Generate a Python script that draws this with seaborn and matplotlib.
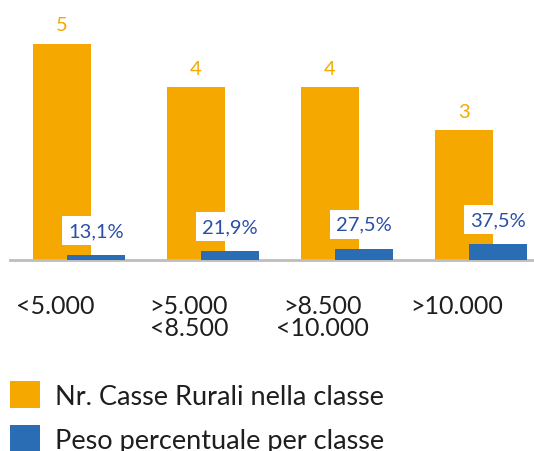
import numpy as np
import matplotlib
matplotlib.use("Agg")
import matplotlib.pyplot as plt
import seaborn as sns

classes = ["<5.000", ">5.000\n<8.500", ">8.500\n<10.000", ">10.000"]
casse_rurali = [5, 4, 4, 3]
peso_percentuale = [13.1, 21.9, 27.5, 37.5]
label_casse = "Nr. Casse Rurali nella classe"
label_peso = "Peso percentuale per classe"

ORANGE = "#F5A800"
BLUE = "#2A6DB5"
BLUE_TEXT = "#2A4FA6"
GREY = "#BDBDBD"
TEXT = "#1E1E1E"

sns.set_theme(style="white")
plt.rcParams['font.family'] = ['Lato', 'DejaVu Sans']

fig = plt.figure(figsize=(5.34, 4.52), dpi=100)
ax = fig.add_axes([10 / 534, 0.4215, 1 - 10 / 534, 0.5373])

idx = np.arange(len(classes))
shift = 0.127
bar_w = 0.433
peso_frac = [p / 100 for p in peso_percentuale]

sns.barplot(x=idx - shift, y=casse_rurali, native_scale=True, width=bar_w,
            color=ORANGE, saturation=1, linewidth=0, ax=ax, label=label_casse, zorder=2)
sns.barplot(x=idx + shift, y=peso_frac, native_scale=True, width=bar_w,
            color=BLUE, saturation=1, linewidth=0, ax=ax, label=label_peso, zorder=3)

# value labels
for i, v in enumerate(casse_rurali):
    ax.annotate(str(v), xy=(i - shift, v), xytext=(0, 13.5), textcoords="offset points",
                ha="center", va="center", fontsize=14.5, color=ORANGE, zorder=5)
for i, p in enumerate(peso_percentuale):
    txt = f"{p:.1f}".replace(".", ",") + "%"
    ax.annotate(txt, xy=(i + shift, p / 100), xytext=(0, 17.5), textcoords="offset points",
                ha="center", va="center", fontsize=14.5, color=BLUE_TEXT, zorder=5,
                bbox=dict(boxstyle="square,pad=0.3", fc="white", ec="none"))

ax.set_xlim(-0.515, 3.395)
ax.set_ylim(0, 5.6)
ax.set_xticks(idx - 0.18)
ax.set_xticklabels(classes, fontsize=18, color=TEXT, linespacing=0.98)
ax.tick_params(axis="x", length=0, pad=24)
ax.set_yticks([])
ax.set_xlabel("")
ax.set_ylabel("")
for s in ["top", "right", "left"]:
    ax.spines[s].set_visible(False)
ax.spines["bottom"].set_color(GREY)
ax.spines["bottom"].set_linewidth(2)

handles, labels = ax.get_legend_handles_labels()
if ax.legend_:
    ax.legend_.remove()
fig.legend(handles, labels, loc="upper left", bbox_to_anchor=(10 / 534, 1 - 382 / 452),
           frameon=False, fontsize=19.5, labelcolor=TEXT, handlelength=1.11, handleheight=1.15,
           handletextpad=0.55, labelspacing=0.62, borderpad=0, borderaxespad=0)

fig.savefig("out.png", dpi=100)
